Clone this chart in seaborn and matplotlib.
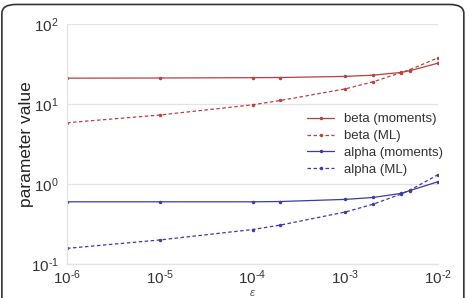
import numpy as np
import pandas as pd
import matplotlib
matplotlib.use("Agg")
import matplotlib.pyplot as plt
import seaborn as sns
from matplotlib.patches import FancyBboxPatch
from matplotlib.ticker import FuncFormatter

eps = [1e-6, 1e-5, 1e-4, 2e-4, 1e-3, 2e-3, 4e-3, 5e-3, 1e-2]
beta_moments = [21.1, 21.2, 21.4, 21.5, 22.2, 23.0, 24.9, 26.2, 32.5]
beta_ml = [5.85, 7.3, 9.8, 11.1, 15.5, 19.0, 24.8, 27.0, 38.0]
alpha_moments = [0.60, 0.60, 0.60, 0.605, 0.643, 0.68, 0.765, 0.83, 1.07]
alpha_ml = [0.157, 0.20, 0.27, 0.307, 0.447, 0.56, 0.75, 0.84, 1.31]

series = ["beta (moments)", "beta (ML)", "alpha (moments)", "alpha (ML)"]
values = [beta_moments, beta_ml, alpha_moments, alpha_ml]

df = pd.DataFrame({
    "eps": eps * 4,
    "value": sum(values, []),
    "series": np.repeat(series, len(eps)),
})

sns.set_theme(style="whitegrid")
plt.rcParams["font.family"] = ["Liberation Sans", "DejaVu Sans"]
plt.rcParams["mathtext.fontset"] = "custom"
plt.rcParams["mathtext.rm"] = "Liberation Sans"
plt.rcParams["mathtext.it"] = "Liberation Sans:italic"

red = "#b8403f"
blue = "#3b3aa6"
palette = {series[0]: red, series[1]: red, series[2]: blue, series[3]: blue}
dashes = {series[0]: "", series[1]: (2.8, 2), series[2]: "", series[3]: (2.8, 2)}

fig = plt.figure(figsize=(4.69, 2.98), dpi=100)
ax = fig.add_axes([0.1429, 0.114, 0.791, 0.805])

sns.lineplot(data=df, x="eps", y="value", hue="series", style="series",
             palette=palette, dashes=dashes, markers={s: "o" for s in series},
             markersize=2.5, markeredgewidth=0, linewidth=0.9, ax=ax,
             hue_order=series, style_order=series)

ax.set_xscale("log")
ax.set_yscale("log")
ax.set_xlim(1e-6, 1e-2)
ax.set_ylim(1e-1, 1e2)
ax.minorticks_off()


def fmt(v, pos):
    e = int(round(np.log10(v)))
    if e < 0:
        return r"$10^{\text{-}%d}$" % (-e)
    return r"$10^{%d}$" % e


ax.xaxis.set_major_formatter(FuncFormatter(fmt))
ax.yaxis.set_major_formatter(FuncFormatter(fmt))
ax.grid(axis="x", visible=False)
ax.grid(axis="y", color="#e3e3e3", linewidth=0.9)
for s in ["top", "right"]:
    ax.spines[s].set_visible(False)
for s in ["left", "bottom"]:
    ax.spines[s].set_color("#e3e3e3")
    ax.spines[s].set_linewidth(0.9)
ax.tick_params(axis="y", labelsize=11, colors="#333333", pad=6, length=0)
ax.tick_params(axis="x", labelsize=11, colors="#333333", pad=3, length=0)
ax.set_xlabel("ε", fontsize=8, fontstyle="italic", color="#555555", labelpad=0)
ax.xaxis.set_label_coords(0.5, -0.1)
ax.set_ylabel("parameter value", fontsize=12.5, color="#222222")
ax.yaxis.set_label_coords(-0.089, 0.5)

leg = ax.legend(loc="upper left", bbox_to_anchor=(0.648, 0.63), frameon=False,
                fontsize=9.5, handlelength=2.0, labelspacing=0.36, handletextpad=0.75,
                borderaxespad=0, borderpad=0)
for t in leg.get_texts():
    t.set_color("#333333")

frame = FancyBboxPatch((0.004, -0.05), 0.985, 1.035, boxstyle="round,pad=0,rounding_size=0.03",
                       transform=fig.transFigure, fill=False, edgecolor="#333333",
                       linewidth=1.2, clip_on=False)
fig.patches.append(frame)

fig.savefig("out.png", dpi=100)
